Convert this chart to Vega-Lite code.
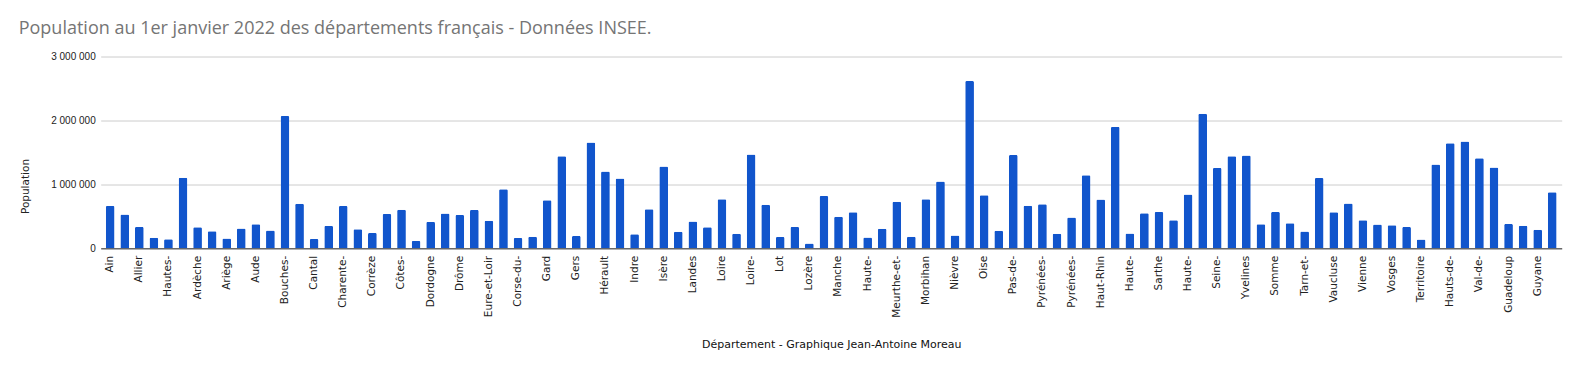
{
  "$schema": "https://vega.github.io/schema/vega-lite/v6.json",
  "autosize": "none",
  "width": 1461,
  "height": 191.8,
  "padding": {"left": 100.7, "right": 18.3, "top": 56.5, "bottom": 122.7},
  "background": "white",
  "title": {
    "text": "Population au 1er janvier 2022 des départements français - Données INSEE.",
    "anchor": "start",
    "frame": "group",
    "orient": "top",
    "baseline": "alphabetic",
    "offset": 0,
    "dx": -82,
    "font": "Open Sans",
    "fontSize": 18,
    "fontWeight": "normal",
    "color": "#757575"
  },
  "data": {
    "values": [
      {"departement": "Ain", "population": 663000},
      {"departement": "Aisne", "population": 527000},
      {"departement": "Allier", "population": 333000},
      {"departement": "Alpes-de-Haute-Provence", "population": 166000},
      {"departement": "Hautes-Alpes", "population": 141000},
      {"departement": "Alpes-Maritimes", "population": 1105000},
      {"departement": "Ardèche", "population": 330000},
      {"departement": "Ardennes", "population": 268000},
      {"departement": "Ariège", "population": 155000},
      {"departement": "Aube", "population": 311000},
      {"departement": "Aude", "population": 378000},
      {"departement": "Aveyron", "population": 279000},
      {"departement": "Bouches-du-Rhône", "population": 2068000},
      {"departement": "Calvados", "population": 695000},
      {"departement": "Cantal", "population": 144000},
      {"departement": "Charente", "population": 350000},
      {"departement": "Charente-Maritime", "population": 660000},
      {"departement": "Cher", "population": 299000},
      {"departement": "Corrèze", "population": 240000},
      {"departement": "Côte-d'Or", "population": 535000},
      {"departement": "Côtes-d'Armor", "population": 603000},
      {"departement": "Creuse", "population": 116000},
      {"departement": "Dordogne", "population": 413000},
      {"departement": "Doubs", "population": 543000},
      {"departement": "Drôme", "population": 520000},
      {"departement": "Eure", "population": 598000},
      {"departement": "Eure-et-Loir", "population": 430000},
      {"departement": "Finistère", "population": 922000},
      {"departement": "Corse-du-Sud", "population": 160000},
      {"departement": "Haute-Corse", "population": 180000},
      {"departement": "Gard", "population": 752000},
      {"departement": "Haute-Garonne", "population": 1438000},
      {"departement": "Gers", "population": 192000},
      {"departement": "Gironde", "population": 1656000},
      {"departement": "Hérault", "population": 1202000},
      {"departement": "Ille-et-Vilaine", "population": 1093000},
      {"departement": "Indre", "population": 218000},
      {"departement": "Indre-et-Loire", "population": 612000},
      {"departement": "Isère", "population": 1280000},
      {"departement": "Jura", "population": 258000},
      {"departement": "Landes", "population": 420000},
      {"departement": "Loir-et-Cher", "population": 328000},
      {"departement": "Loire", "population": 766000},
      {"departement": "Haute-Loire", "population": 228000},
      {"departement": "Loire-Atlantique", "population": 1466000},
      {"departement": "Loiret", "population": 682000},
      {"departement": "Lot", "population": 175000},
      {"departement": "Lot-et-Garonne", "population": 332000},
      {"departement": "Lozère", "population": 76000},
      {"departement": "Maine-et-Loire", "population": 818000},
      {"departement": "Manche", "population": 495000},
      {"departement": "Marne", "population": 562000},
      {"departement": "Haute-Marne", "population": 170000},
      {"departement": "Mayenne", "population": 306000},
      {"departement": "Meurthe-et-Moselle", "population": 729000},
      {"departement": "Meuse", "population": 181000},
      {"departement": "Morbihan", "population": 766000},
      {"departement": "Moselle", "population": 1045000},
      {"departement": "Nièvre", "population": 199000},
      {"departement": "Nord", "population": 2617000},
      {"departement": "Oise", "population": 829000},
      {"departement": "Orne", "population": 276000},
      {"departement": "Pas-de-Calais", "population": 1458000},
      {"departement": "Puy-de-Dôme", "population": 664000},
      {"departement": "Pyrénées-Atlantiques", "population": 688000},
      {"departement": "Hautes-Pyrénées", "population": 229000},
      {"departement": "Pyrénées-Orientales", "population": 483000},
      {"departement": "Bas-Rhin", "population": 1144000},
      {"departement": "Haut-Rhin", "population": 764000},
      {"departement": "Rhône", "population": 1899000},
      {"departement": "Haute-Saône", "population": 233000},
      {"departement": "Saône-et-Loire", "population": 549000},
      {"departement": "Sarthe", "population": 566000},
      {"departement": "Savoie", "population": 440000},
      {"departement": "Haute-Savoie", "population": 843000},
      {"departement": "Paris", "population": 2103000},
      {"departement": "Seine-Maritime", "population": 1255000},
      {"departement": "Seine-et-Marne", "population": 1438000},
      {"departement": "Yvelines", "population": 1450000},
      {"departement": "Deux-Sèvres", "population": 375000},
      {"departement": "Somme", "population": 568000},
      {"departement": "Tarn", "population": 392000},
      {"departement": "Tarn-et-Garonne", "population": 262000},
      {"departement": "Var", "population": 1100000},
      {"departement": "Vaucluse", "population": 565000},
      {"departement": "Vendée", "population": 700000},
      {"departement": "Vienne", "population": 440000},
      {"departement": "Haute-Vienne", "population": 372000},
      {"departement": "Vosges", "population": 360000},
      {"departement": "Yonne", "population": 333000},
      {"departement": "Territoire de Belfort", "population": 137000},
      {"departement": "Essonne", "population": 1310000},
      {"departement": "Hauts-de-Seine", "population": 1642000},
      {"departement": "Seine-Saint-Denis", "population": 1672000},
      {"departement": "Val-de-Marne", "population": 1407000},
      {"departement": "Val-d'Oise", "population": 1264000},
      {"departement": "Guadeloupe", "population": 380000},
      {"departement": "Martinique", "population": 352000},
      {"departement": "Guyane", "population": 290000},
      {"departement": "La Réunion", "population": 878000}
    ]
  },
  "mark": {
    "type": "bar",
    "color": "#1155CC",
    "cornerRadiusTopLeft": 1.5,
    "cornerRadiusTopRight": 1.5
  },
  "encoding": {
    "x": {
      "field": "departement",
      "type": "nominal",
      "sort": null,
      "scale": {"paddingInner": 0.4, "paddingOuter": 0.35},
      "axis": {
        "title": "Département - Graphique Jean-Antoine Moreau",
        "titleFont": "DejaVu Sans",
        "titleFontSize": 11,
        "titleFontWeight": "normal",
        "titleColor": "#111111",
        "titlePadding": 21,
        "labelAngle": -90,
        "labelAlign": "right",
        "labelBaseline": "middle",
        "labelFont": "DejaVu Sans",
        "labelFontSize": 10.5,
        "labelColor": "#222222",
        "labelPadding": 7,
        "labelOverlap": false,
        "labelLimit": 200,
        "labelExpr": "round(datum.index * 99) % 2 == 1 ? '' : ({'Hautes-Alpes': 'Hautes-', 'Bouches-du-Rhône': 'Bouches-', 'Charente-Maritime': 'Charente-', \"Côtes-d'Armor\": 'Côtes-', 'Corse-du-Sud': 'Corse-du-', 'Loire-Atlantique': 'Loire-', 'Haute-Marne': 'Haute-', 'Meurthe-et-Moselle': 'Meurthe-et-', 'Pas-de-Calais': 'Pas-de-', 'Pyrénées-Atlantiques': 'Pyrénées-', 'Pyrénées-Orientales': 'Pyrénées-', 'Haute-Saône': 'Haute-', 'Haute-Savoie': 'Haute-', 'Seine-Maritime': 'Seine-', 'Tarn-et-Garonne': 'Tarn-et-', 'Territoire de Belfort': 'Territoire', 'Hauts-de-Seine': 'Hauts-de-', 'Val-de-Marne': 'Val-de-', 'Guadeloupe': 'Guadeloup'})[datum.value] || datum.value",
        "ticks": false,
        "domain": true,
        "domainColor": "#333333",
        "domainWidth": 1,
        "grid": false
      }
    },
    "y": {
      "field": "population",
      "type": "quantitative",
      "scale": {"domain": [0, 3000000], "nice": false},
      "axis": {
        "title": "Population",
        "titleFont": "DejaVu Sans",
        "titleFontSize": 10.5,
        "titleFontWeight": "normal",
        "titleColor": "#222222",
        "titlePadding": 20,
        "titleY": 129.5,
        "values": [0, 1000000, 2000000, 3000000],
        "labelExpr": "replace(format(datum.value, ',d'), /,/g, ' ')",
        "labelFont": "Liberation Sans",
        "labelFontSize": 10,
        "labelColor": "#222222",
        "labelPadding": 5.5,
        "ticks": false,
        "domain": false,
        "grid": true,
        "gridColor": "#CCCCCC",
        "gridWidth": 1
      }
    }
  },
  "config": {
    "view": {"stroke": null}
  }
}
